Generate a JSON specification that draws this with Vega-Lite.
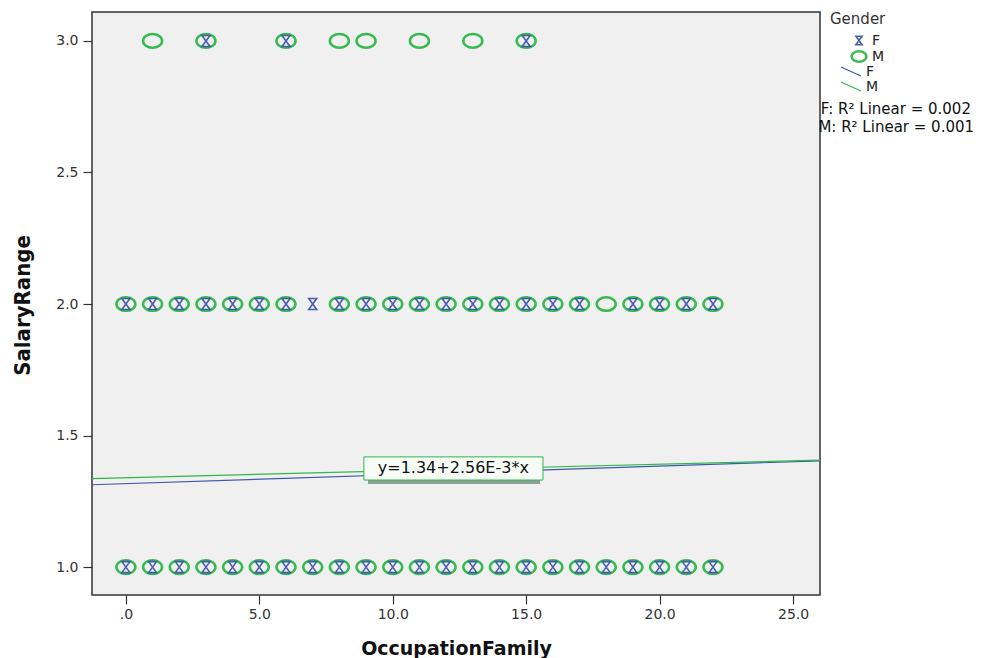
{
 "$schema": "https://vega.github.io/schema/vega-lite/v6.json",
 "width": 728,
 "height": 583,
 "autosize": {"type": "none"},
 "padding": {"left": 92, "top": 12, "right": 178, "bottom": 63},
 "background": "#ffffff",
 "config": {
  "view": {"fill": "#f0f0f0", "stroke": "#333333", "strokeWidth": 1.5},
  "font": "DejaVu Sans",
  "axis": {"grid": false, "domain": false, "tickColor": "#333333", "tickWidth": 1.2, "labelColor": "#333333", "labelFont": "DejaVu Sans", "labelFontSize": 14, "titleColor": "#111111"},
  "legend": {"labelFont": "DejaVu Sans", "titleFont": "DejaVu Sans"}
 },
 "datasets": {
  "points": [
   {"OccupationFamily": 0, "SalaryRange": 1, "Gender": "M"},
   {"OccupationFamily": 1, "SalaryRange": 1, "Gender": "M"},
   {"OccupationFamily": 2, "SalaryRange": 1, "Gender": "M"},
   {"OccupationFamily": 3, "SalaryRange": 1, "Gender": "M"},
   {"OccupationFamily": 4, "SalaryRange": 1, "Gender": "M"},
   {"OccupationFamily": 5, "SalaryRange": 1, "Gender": "M"},
   {"OccupationFamily": 6, "SalaryRange": 1, "Gender": "M"},
   {"OccupationFamily": 7, "SalaryRange": 1, "Gender": "M"},
   {"OccupationFamily": 8, "SalaryRange": 1, "Gender": "M"},
   {"OccupationFamily": 9, "SalaryRange": 1, "Gender": "M"},
   {"OccupationFamily": 10, "SalaryRange": 1, "Gender": "M"},
   {"OccupationFamily": 11, "SalaryRange": 1, "Gender": "M"},
   {"OccupationFamily": 12, "SalaryRange": 1, "Gender": "M"},
   {"OccupationFamily": 13, "SalaryRange": 1, "Gender": "M"},
   {"OccupationFamily": 14, "SalaryRange": 1, "Gender": "M"},
   {"OccupationFamily": 15, "SalaryRange": 1, "Gender": "M"},
   {"OccupationFamily": 16, "SalaryRange": 1, "Gender": "M"},
   {"OccupationFamily": 17, "SalaryRange": 1, "Gender": "M"},
   {"OccupationFamily": 18, "SalaryRange": 1, "Gender": "M"},
   {"OccupationFamily": 19, "SalaryRange": 1, "Gender": "M"},
   {"OccupationFamily": 20, "SalaryRange": 1, "Gender": "M"},
   {"OccupationFamily": 21, "SalaryRange": 1, "Gender": "M"},
   {"OccupationFamily": 22, "SalaryRange": 1, "Gender": "M"},
   {"OccupationFamily": 0, "SalaryRange": 2, "Gender": "M"},
   {"OccupationFamily": 1, "SalaryRange": 2, "Gender": "M"},
   {"OccupationFamily": 2, "SalaryRange": 2, "Gender": "M"},
   {"OccupationFamily": 3, "SalaryRange": 2, "Gender": "M"},
   {"OccupationFamily": 4, "SalaryRange": 2, "Gender": "M"},
   {"OccupationFamily": 5, "SalaryRange": 2, "Gender": "M"},
   {"OccupationFamily": 6, "SalaryRange": 2, "Gender": "M"},
   {"OccupationFamily": 8, "SalaryRange": 2, "Gender": "M"},
   {"OccupationFamily": 9, "SalaryRange": 2, "Gender": "M"},
   {"OccupationFamily": 10, "SalaryRange": 2, "Gender": "M"},
   {"OccupationFamily": 11, "SalaryRange": 2, "Gender": "M"},
   {"OccupationFamily": 12, "SalaryRange": 2, "Gender": "M"},
   {"OccupationFamily": 13, "SalaryRange": 2, "Gender": "M"},
   {"OccupationFamily": 14, "SalaryRange": 2, "Gender": "M"},
   {"OccupationFamily": 15, "SalaryRange": 2, "Gender": "M"},
   {"OccupationFamily": 16, "SalaryRange": 2, "Gender": "M"},
   {"OccupationFamily": 17, "SalaryRange": 2, "Gender": "M"},
   {"OccupationFamily": 18, "SalaryRange": 2, "Gender": "M"},
   {"OccupationFamily": 19, "SalaryRange": 2, "Gender": "M"},
   {"OccupationFamily": 20, "SalaryRange": 2, "Gender": "M"},
   {"OccupationFamily": 21, "SalaryRange": 2, "Gender": "M"},
   {"OccupationFamily": 22, "SalaryRange": 2, "Gender": "M"},
   {"OccupationFamily": 1, "SalaryRange": 3, "Gender": "M"},
   {"OccupationFamily": 3, "SalaryRange": 3, "Gender": "M"},
   {"OccupationFamily": 6, "SalaryRange": 3, "Gender": "M"},
   {"OccupationFamily": 8, "SalaryRange": 3, "Gender": "M"},
   {"OccupationFamily": 9, "SalaryRange": 3, "Gender": "M"},
   {"OccupationFamily": 11, "SalaryRange": 3, "Gender": "M"},
   {"OccupationFamily": 13, "SalaryRange": 3, "Gender": "M"},
   {"OccupationFamily": 15, "SalaryRange": 3, "Gender": "M"},
   {"OccupationFamily": 0, "SalaryRange": 1, "Gender": "F"},
   {"OccupationFamily": 1, "SalaryRange": 1, "Gender": "F"},
   {"OccupationFamily": 2, "SalaryRange": 1, "Gender": "F"},
   {"OccupationFamily": 3, "SalaryRange": 1, "Gender": "F"},
   {"OccupationFamily": 4, "SalaryRange": 1, "Gender": "F"},
   {"OccupationFamily": 5, "SalaryRange": 1, "Gender": "F"},
   {"OccupationFamily": 6, "SalaryRange": 1, "Gender": "F"},
   {"OccupationFamily": 7, "SalaryRange": 1, "Gender": "F"},
   {"OccupationFamily": 8, "SalaryRange": 1, "Gender": "F"},
   {"OccupationFamily": 9, "SalaryRange": 1, "Gender": "F"},
   {"OccupationFamily": 10, "SalaryRange": 1, "Gender": "F"},
   {"OccupationFamily": 11, "SalaryRange": 1, "Gender": "F"},
   {"OccupationFamily": 12, "SalaryRange": 1, "Gender": "F"},
   {"OccupationFamily": 13, "SalaryRange": 1, "Gender": "F"},
   {"OccupationFamily": 14, "SalaryRange": 1, "Gender": "F"},
   {"OccupationFamily": 15, "SalaryRange": 1, "Gender": "F"},
   {"OccupationFamily": 16, "SalaryRange": 1, "Gender": "F"},
   {"OccupationFamily": 17, "SalaryRange": 1, "Gender": "F"},
   {"OccupationFamily": 18, "SalaryRange": 1, "Gender": "F"},
   {"OccupationFamily": 19, "SalaryRange": 1, "Gender": "F"},
   {"OccupationFamily": 20, "SalaryRange": 1, "Gender": "F"},
   {"OccupationFamily": 21, "SalaryRange": 1, "Gender": "F"},
   {"OccupationFamily": 22, "SalaryRange": 1, "Gender": "F"},
   {"OccupationFamily": 0, "SalaryRange": 2, "Gender": "F"},
   {"OccupationFamily": 1, "SalaryRange": 2, "Gender": "F"},
   {"OccupationFamily": 2, "SalaryRange": 2, "Gender": "F"},
   {"OccupationFamily": 3, "SalaryRange": 2, "Gender": "F"},
   {"OccupationFamily": 4, "SalaryRange": 2, "Gender": "F"},
   {"OccupationFamily": 5, "SalaryRange": 2, "Gender": "F"},
   {"OccupationFamily": 6, "SalaryRange": 2, "Gender": "F"},
   {"OccupationFamily": 7, "SalaryRange": 2, "Gender": "F"},
   {"OccupationFamily": 8, "SalaryRange": 2, "Gender": "F"},
   {"OccupationFamily": 9, "SalaryRange": 2, "Gender": "F"},
   {"OccupationFamily": 10, "SalaryRange": 2, "Gender": "F"},
   {"OccupationFamily": 11, "SalaryRange": 2, "Gender": "F"},
   {"OccupationFamily": 12, "SalaryRange": 2, "Gender": "F"},
   {"OccupationFamily": 13, "SalaryRange": 2, "Gender": "F"},
   {"OccupationFamily": 14, "SalaryRange": 2, "Gender": "F"},
   {"OccupationFamily": 15, "SalaryRange": 2, "Gender": "F"},
   {"OccupationFamily": 16, "SalaryRange": 2, "Gender": "F"},
   {"OccupationFamily": 17, "SalaryRange": 2, "Gender": "F"},
   {"OccupationFamily": 19, "SalaryRange": 2, "Gender": "F"},
   {"OccupationFamily": 20, "SalaryRange": 2, "Gender": "F"},
   {"OccupationFamily": 21, "SalaryRange": 2, "Gender": "F"},
   {"OccupationFamily": 22, "SalaryRange": 2, "Gender": "F"},
   {"OccupationFamily": 3, "SalaryRange": 3, "Gender": "F"},
   {"OccupationFamily": 6, "SalaryRange": 3, "Gender": "F"},
   {"OccupationFamily": 15, "SalaryRange": 3, "Gender": "F"}
  ],
  "fits": [
   {"OccupationFamily": -1.27, "SalaryRange": 1.313, "Fit": "F line"},
   {"OccupationFamily": 26.01, "SalaryRange": 1.404, "Fit": "F line"},
   {"OccupationFamily": -1.27, "SalaryRange": 1.3367, "Fit": "M line"},
   {"OccupationFamily": 26.01, "SalaryRange": 1.4066, "Fit": "M line"}
  ]
 },
 "layer": [
  {
   "data": {"name": "points"},
   "mark": {"type": "point", "filled": false, "size": 361, "opacity": 0.95},
   "encoding": {
    "x": {
     "field": "OccupationFamily", "type": "quantitative",
     "scale": {"domain": [-1.27, 26.01], "nice": false, "zero": false},
     "axis": {"title": "OccupationFamily", "values": [0, 5, 10, 15, 20, 25],
      "labelExpr": "datum.value == 0 ? '.0' : format(datum.value, '.1f')",
      "tickSize": 9, "labelPadding": 3,
      "titleFont": "DejaVu Sans", "titleFontSize": 19, "titleFontWeight": "bold",
      "titleX": 364, "titleY": 53, "titleBaseline": "middle", "titleAlign": "center"}
    },
    "y": {
     "field": "SalaryRange", "type": "quantitative",
     "scale": {"domain": [0.894, 3.11], "nice": false, "zero": false},
     "axis": {"title": "SalaryRange", "values": [1, 1.5, 2, 2.5, 3], "format": ".1f",
      "tickSize": 9, "labelPadding": 5,
      "titleFont": "Liberation Sans Narrow, DejaVu Sans Condensed, sans-serif", "titleFontSize": 22, "titleFontWeight": "bold",
      "titleX": -70, "titleY": 293, "titleAngle": -90, "titleBaseline": "middle", "titleAlign": "center"}
    },
    "color": {
     "field": "Gender", "type": "nominal",
     "scale": {"domain": ["F", "M"], "range": ["#3E58AC", "#2EB848"]},
     "legend": {"title": "Gender", "orient": "none", "legendX": 738, "legendY": 0, "padding": 0,
      "titleFontSize": 15, "titleFontWeight": "normal", "titleColor": "#333333", "titlePadding": 6,
      "labelFontSize": 14, "labelColor": "#222222", "symbolSize": 220, "symbolOffset": 20,
      "symbolStrokeWidth": 1.5, "clipHeight": 15, "rowPadding": 1, "labelOffset": 4}
    },
    "shape": {
     "field": "Gender", "type": "nominal",
     "scale": {"domain": ["F", "M"], "range": [
      "M-0.42,-0.58H0.42L-0.42,0.58H0.42Z",
      "M-1,0C-1,-0.398,-0.552,-0.72,0,-0.72C0.552,-0.72,1,-0.398,1,0C1,0.398,0.552,0.72,0,0.72C-0.552,0.72,-1,0.398,-1,0Z"
     ]},
     "legend": {"title": "Gender", "orient": "none", "legendX": 738, "legendY": 0, "padding": 0,
      "titleFontSize": 15, "titleFontWeight": "normal", "titleColor": "#333333", "titlePadding": 6,
      "labelFontSize": 14, "labelColor": "#222222", "symbolSize": 220, "symbolOffset": 20,
      "symbolStrokeWidth": 1.5, "clipHeight": 15, "rowPadding": 1, "labelOffset": 4}
    },
    "strokeWidth": {
     "field": "Gender", "type": "nominal",
     "scale": {"domain": ["F", "M"], "range": [1.6, 2.5]},
     "legend": null
    }
   }
  },
  {
   "data": {"name": "fits"},
   "mark": {"type": "line", "strokeWidth": 1.2, "clip": true},
   "encoding": {
    "x": {"field": "OccupationFamily", "type": "quantitative"},
    "y": {"field": "SalaryRange", "type": "quantitative"},
    "stroke": {
     "field": "Fit", "type": "nominal",
     "scale": {"domain": ["F line", "M line"], "range": ["#3E58AC", "#2EB848"]},
     "legend": {"title": null, "orient": "none", "legendX": 740, "legendY": 52, "padding": 0,
      "labelExpr": "substring(datum.label, 0, 1)",
      "symbolType": "M-1,-0.45L1,0.45", "symbolSize": 400, "symbolStrokeWidth": 1.2, "symbolOffset": 8,
      "labelFontSize": 14, "labelColor": "#222222", "clipHeight": 15, "rowPadding": 0, "labelOffset": 4}
    }
   }
  },
  {
   "data": {"values": [{}]},
   "mark": {"type": "rect", "fill": "#8f9f95"},
   "encoding": {
    "x": {"datum": 9.07}, "x2": {"datum": 15.52},
    "y": {"datum": 1.408}, "y2": {"datum": 1.316}
   }
  },
  {
   "data": {"values": [{}]},
   "mark": {"type": "rect", "fill": "#f7fcf7", "stroke": "#2EB848", "strokeWidth": 1},
   "encoding": {
    "x": {"datum": 8.92}, "x2": {"datum": 15.63},
    "y": {"datum": 1.419}, "y2": {"datum": 1.331}
   }
  },
  {
   "data": {"values": [{}]},
   "mark": {"type": "text", "text": "y=1.34+2.56E-3*x", "fontSize": 16, "font": "DejaVu Sans", "color": "#111111", "align": "center", "baseline": "middle"},
   "encoding": {"x": {"datum": 12.27}, "y": {"datum": 1.375}}
  },
  {
   "data": {"values": [{}]},
   "mark": {"type": "text", "text": "F: R² Linear = 0.002", "fontSize": 15, "font": "DejaVu Sans", "color": "#111111", "align": "left", "baseline": "middle"},
   "encoding": {"x": {"datum": 26.04}, "y": {"datum": 2.742}}
  },
  {
   "data": {"values": [{}]},
   "mark": {"type": "text", "text": "M: R² Linear = 0.001", "fontSize": 15, "font": "DejaVu Sans", "color": "#111111", "align": "left", "baseline": "middle"},
   "encoding": {"x": {"datum": 25.95}, "y": {"datum": 2.672}}
  }
 ]
}
